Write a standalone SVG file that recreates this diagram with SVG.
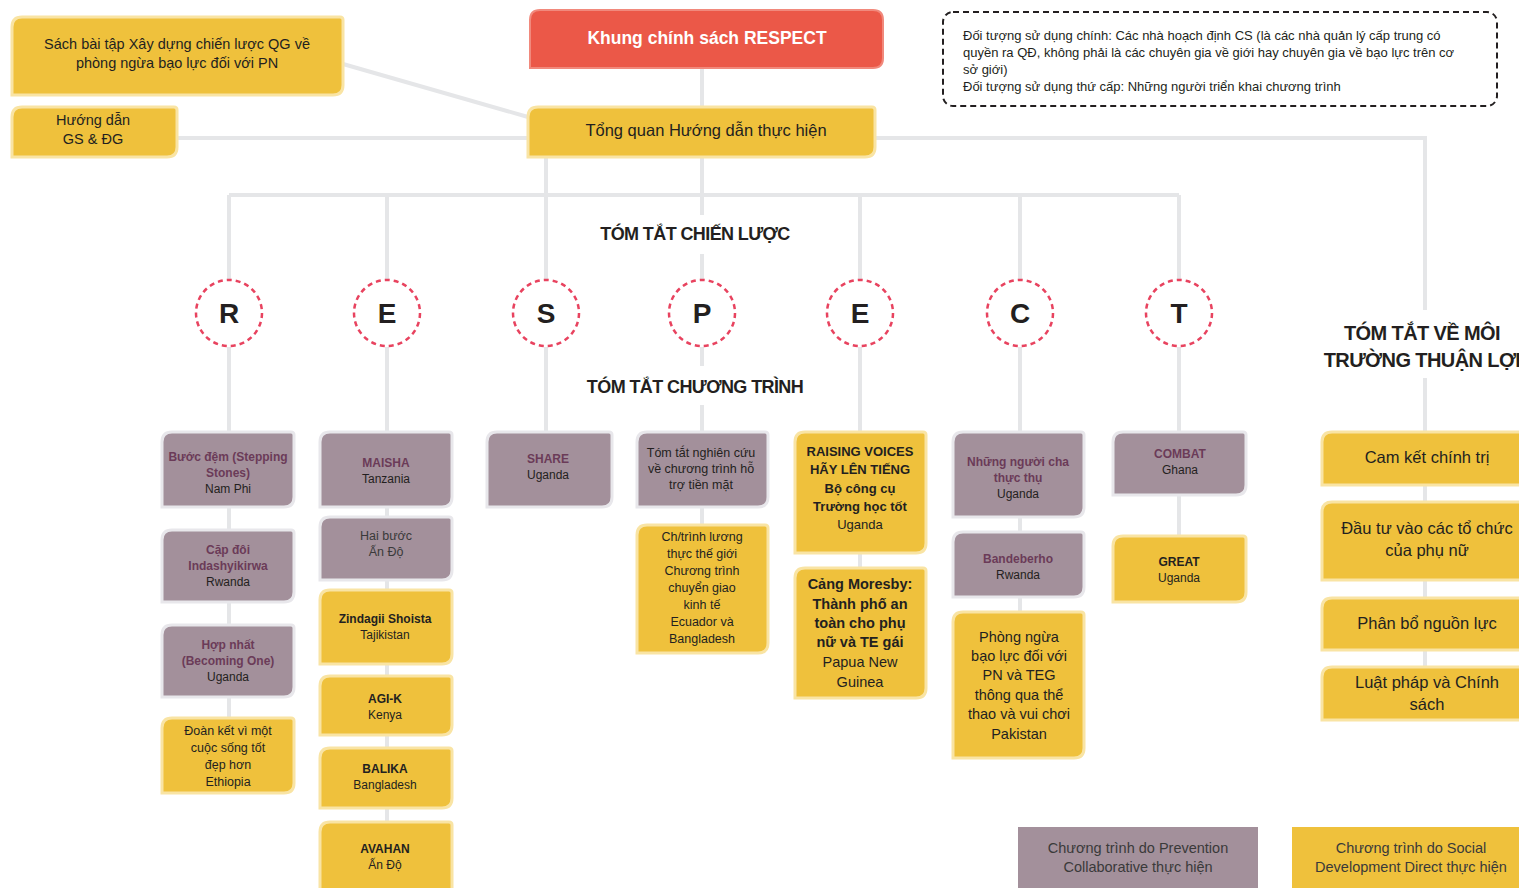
<svg xmlns="http://www.w3.org/2000/svg" width="1519" height="888" viewBox="0 0 1519 888">
<style>
.ln{stroke:#e5e6e8;stroke-width:4;fill:none}
.y{fill:#efc13c;stroke:#f9e4a4;stroke-width:3}
.m{fill:#a3909b;stroke:#e8e7eb;stroke-width:3}
.r{fill:#eb5848;stroke:#f1897c;stroke-width:2}
.c{fill:#fff;stroke:#e8435f;stroke-width:2.5;stroke-dasharray:5 4}
text{font-family:"Liberation Sans",Arial,sans-serif;fill:#231f20;text-anchor:middle}
.s12{font-size:12px}
.s125{font-size:12.5px}
.s13{font-size:12.5px}
.s14{font-size:13px}
.s15{font-size:14.5px}
.s17{font-size:16.5px}
.b{font-weight:bold}
.mb{font-weight:bold;fill:#6b3b58}
.g{fill:#3a3a3a}
.h{font-size:18px;font-weight:bold;letter-spacing:-0.6px}
.L{font-size:28px;font-weight:bold}
.d{font-size:13px;text-anchor:start}
</style>
<rect width="1519" height="888" fill="#fff"/>
<g id="connectors">
<line class="ln" x1="343" y1="64" x2="528" y2="117"/>
<line class="ln" x1="177" y1="138" x2="528" y2="138"/>
<line class="ln" x1="702" y1="68" x2="702" y2="107"/>
<polyline class="ln" points="875,138 1425,138 1425,310"/>
<line class="ln" x1="1425" y1="378" x2="1425" y2="667"/>
<line class="ln" x1="229" y1="195" x2="1179" y2="195"/>
<line class="ln" x1="229" y1="195" x2="229" y2="280"/>
<line class="ln" x1="387" y1="195" x2="387" y2="280"/>
<line class="ln" x1="546" y1="157" x2="546" y2="280"/>
<line class="ln" x1="702" y1="157" x2="702" y2="215"/>
<line class="ln" x1="702" y1="254" x2="702" y2="280"/>
<line class="ln" x1="860" y1="195" x2="860" y2="280"/>
<line class="ln" x1="1020" y1="195" x2="1020" y2="280"/>
<line class="ln" x1="1179" y1="195" x2="1179" y2="280"/>
<line class="ln" x1="229" y1="347" x2="229" y2="718"/>
<line class="ln" x1="387" y1="347" x2="387" y2="822"/>
<line class="ln" x1="546" y1="347" x2="546" y2="432"/>
<line class="ln" x1="702" y1="347" x2="702" y2="366"/>
<line class="ln" x1="702" y1="405" x2="702" y2="525"/>
<line class="ln" x1="860" y1="347" x2="860" y2="568"/>
<line class="ln" x1="1020" y1="347" x2="1020" y2="612"/>
<line class="ln" x1="1179" y1="347" x2="1179" y2="536"/>
</g>
<g id="sach"><path class="y" d="M12 27 Q12 17 22 17 H340 Q343 17 343 20 V85 Q343 95 333 95 H12 Z"/>
<text class="s15" x="177" y="49">Sách bài tập Xây dựng chiến lược QG về</text>
<text class="s15" x="177" y="68">phòng ngừa bạo lực đối với PN</text></g>
<g id="huongdan"><path class="y" d="M12 117 Q12 107 22 107 H174 Q177 107 177 110 V147 Q177 157 167 157 H12 Z"/>
<text class="s15" x="93" y="125">Hướng dẫn</text>
<text class="s15" x="93" y="144">GS &amp; ĐG</text></g>
<g id="khung"><path class="r" d="M530 20 Q530 10 540 10 H873 Q883 10 883 20 V58 Q883 68 873 68 H530 Z"/>
<text x="707" y="44" style="font-size:17.5px;font-weight:bold;fill:#fff">Khung chính sách RESPECT</text></g>
<g id="tongquan"><path class="y" d="M528 117 Q528 107 538 107 H872 Q875 107 875 110 V147 Q875 157 865 157 H528 Z"/>
<text class="s17" x="706" y="136">Tổng quan Hướng dẫn thực hiện</text></g>
<g id="doituong"><rect x="943" y="12" width="554" height="94" rx="10" fill="none" stroke="#231f20" stroke-width="2" stroke-dasharray="6 4"/>
<text class="d" x="963" y="40">Đối tượng sử dụng chính: Các nhà hoạch định CS (là các nhà quản lý cấp trung có</text>
<text class="d" x="963" y="57">quyền ra QĐ, không phải là các chuyên gia về giới hay chuyên gia về bạo lực trên cơ</text>
<text class="d" x="963" y="74">sở giới)</text>
<text class="d" x="963" y="91">Đối tượng sử dụng thứ cấp: Những người triển khai chương trình</text></g>
<g id="labels">
<text class="h" x="695" y="240">TÓM TẮT CHIẾN LƯỢC</text>
<text class="h" x="695" y="393">TÓM TẮT CHƯƠNG TRÌNH</text>
<text x="1422" y="340" style="font-size:20px;font-weight:bold;letter-spacing:-0.6px">TÓM TẮT VỀ MÔI</text>
<text x="1422" y="367" style="font-size:20px;font-weight:bold;letter-spacing:-0.6px">TRƯỜNG THUẬN LỢI</text>
</g>
<g id="circle-R"><circle class="c" cx="229" cy="313" r="33"/><text class="L" x="229" y="323">R</text></g>
<g id="circle-E1"><circle class="c" cx="387" cy="313" r="33"/><text class="L" x="387" y="323">E</text></g>
<g id="circle-S"><circle class="c" cx="546" cy="313" r="33"/><text class="L" x="546" y="323">S</text></g>
<g id="circle-P"><circle class="c" cx="702" cy="313" r="33"/><text class="L" x="702" y="323">P</text></g>
<g id="circle-E2"><circle class="c" cx="860" cy="313" r="33"/><text class="L" x="860" y="323">E</text></g>
<g id="circle-C"><circle class="c" cx="1020" cy="313" r="33"/><text class="L" x="1020" y="323">C</text></g>
<g id="circle-T"><circle class="c" cx="1179" cy="313" r="33"/><text class="L" x="1179" y="323">T</text></g>

<g id="r1"><path class="m" d="M162 442 Q162 432 172 432 H291 Q294 432 294 435 V497 Q294 507 284 507 H162 Z"/>
<text class="s12 mb" x="228" y="461">Bước đệm (Stepping</text><text class="s12 mb" x="228" y="477">Stones)</text><text class="s12" x="228" y="493">Nam Phi</text></g>
<g id="r2"><path class="m" d="M162 540 Q162 530 172 530 H291 Q294 530 294 533 V592 Q294 602 284 602 H162 Z"/>
<text class="s12 mb" x="228" y="554">Cặp đôi</text><text class="s12 mb" x="228" y="570">Indashyikirwa</text><text class="s12" x="228" y="586">Rwanda</text></g>
<g id="r3"><path class="m" d="M162 635 Q162 625 172 625 H291 Q294 625 294 628 V687 Q294 697 284 697 H162 Z"/>
<text class="s12 mb" x="228" y="649">Hợp nhất</text><text class="s12 mb" x="228" y="665">(Becoming One)</text><text class="s12" x="228" y="681">Uganda</text></g>
<g id="r4"><path class="y" d="M162 728 Q162 718 172 718 H291 Q294 718 294 721 V783 Q294 793 284 793 H162 Z"/>
<text class="s13" x="228" y="735">Đoàn kết vì một</text><text class="s13" x="228" y="752">cuộc sống tốt</text><text class="s13" x="228" y="769">đẹp hơn</text><text class="s13" x="228" y="786">Ethiopia</text></g>

<g id="e1"><path class="m" d="M320 442 Q320 432 330 432 H449 Q452 432 452 435 V497 Q452 507 442 507 H320 Z"/>
<text class="s12 mb" x="386" y="467">MAISHA</text><text class="s12" x="386" y="483">Tanzania</text></g>
<g id="e2"><path class="m" d="M320 527 Q320 517 330 517 H449 Q452 517 452 520 V570 Q452 580 442 580 H320 Z"/>
<text class="s13 g" x="386" y="540">Hai bước</text><text class="s13 g" x="386" y="556">Ấn Độ</text></g>
<g id="e3"><path class="y" d="M320 600 Q320 590 330 590 H449 Q452 590 452 593 V654 Q452 664 442 664 H320 Z"/>
<text class="s12 b" x="385" y="623">Zindagii Shoista</text><text class="s12" x="385" y="639">Tajikistan</text></g>
<g id="e4"><path class="y" d="M320 686 Q320 676 330 676 H449 Q452 676 452 679 V725 Q452 735 442 735 H320 Z"/>
<text class="s12 b" x="385" y="703">AGI-K</text><text class="s12" x="385" y="719">Kenya</text></g>
<g id="e5"><path class="y" d="M320 758 Q320 748 330 748 H449 Q452 748 452 751 V798 Q452 808 442 808 H320 Z"/>
<text class="s12 b" x="385" y="773">BALIKA</text><text class="s12" x="385" y="789">Bangladesh</text></g>
<g id="e6"><path class="y" d="M320 832 Q320 822 330 822 H449 Q452 822 452 825 V895 H320 Z"/>
<text class="s12 b" x="385" y="853">AVAHAN</text><text class="s12" x="385" y="869">Ấn Độ</text></g>

<g id="s1"><path class="m" d="M487 442 Q487 432 497 432 H609 Q612 432 612 435 V497 Q612 507 602 507 H487 Z"/>
<text class="s12 mb" x="548" y="463">SHARE</text><text class="s12" x="548" y="479">Uganda</text></g>

<g id="p1"><path class="m" d="M637 442 Q637 432 647 432 H765 Q768 432 768 435 V497 Q768 507 758 507 H637 Z"/>
<text class="s125" x="701" y="457">Tóm tắt nghiên cứu</text><text class="s125" x="701" y="473">về chương trình hỗ</text><text class="s125" x="701" y="489">trợ tiền mặt</text></g>
<g id="p2"><path class="y" d="M637 535 Q637 525 647 525 H765 Q768 525 768 528 V643 Q768 653 758 653 H637 Z"/>
<text class="s13" x="702" y="541">Ch/trình lương</text><text class="s13" x="702" y="558">thực thế giới</text><text class="s13" x="702" y="575">Chương trình</text><text class="s13" x="702" y="592">chuyển giao</text><text class="s13" x="702" y="609">kinh tế</text><text class="s13" x="702" y="626">Ecuador và</text><text class="s13" x="702" y="643">Bangladesh</text></g>

<g id="e2a"><path class="y" d="M795 442 Q795 432 805 432 H923 Q926 432 926 435 V543 Q926 553 916 553 H795 Z"/>
<text class="s14 b" x="860" y="456">RAISING VOICES</text><text class="s14 b" x="860" y="474">HÃY LÊN TIẾNG</text><text class="s14 b" x="860" y="493">Bộ công cụ</text><text class="s14 b" x="860" y="511">Trường học tốt</text><text class="s14" x="860" y="529">Uganda</text></g>
<g id="e2b"><path class="y" d="M795 578 Q795 568 805 568 H923 Q926 568 926 571 V688 Q926 698 916 698 H795 Z"/>
<text class="s15 b" x="860" y="589">Cảng Moresby:</text><text class="s15 b" x="860" y="609">Thành phố an</text><text class="s15 b" x="860" y="628">toàn cho phụ</text><text class="s15 b" x="860" y="647">nữ và TE gái</text><text class="s15" x="860" y="667">Papua New</text><text class="s15" x="860" y="687">Guinea</text></g>

<g id="c1"><path class="m" d="M953 442 Q953 432 963 432 H1081 Q1084 432 1084 435 V507 Q1084 517 1074 517 H953 Z"/>
<text class="s12 mb" x="1018" y="466">Những người cha</text><text class="s12 mb" x="1018" y="482">thực thụ</text><text class="s12" x="1018" y="498">Uganda</text></g>
<g id="c2"><path class="m" d="M953 542 Q953 532 963 532 H1081 Q1084 532 1084 535 V587 Q1084 597 1074 597 H953 Z"/>
<text class="s12 mb" x="1018" y="563">Bandeberho</text><text class="s12" x="1018" y="579">Rwanda</text></g>
<g id="c3"><path class="y" d="M953 622 Q953 612 963 612 H1081 Q1084 612 1084 615 V748 Q1084 758 1074 758 H953 Z"/>
<text class="s15" x="1019" y="642">Phòng ngừa</text><text class="s15" x="1019" y="661">bạo lực đối với</text><text class="s15" x="1019" y="680">PN và TEG</text><text class="s15" x="1019" y="700">thông qua thể</text><text class="s15" x="1019" y="719">thao và vui chơi</text><text class="s15" x="1019" y="739">Pakistan</text></g>

<g id="t1"><path class="m" d="M1113 442 Q1113 432 1123 432 H1243 Q1246 432 1246 435 V485 Q1246 495 1236 495 H1113 Z"/>
<text class="s12 mb" x="1180" y="458">COMBAT</text><text class="s12" x="1180" y="474">Ghana</text></g>
<g id="t2"><path class="y" d="M1113 546 Q1113 536 1123 536 H1243 Q1246 536 1246 539 V592 Q1246 602 1236 602 H1113 Z"/>
<text class="s12 b" x="1179" y="566">GREAT</text><text class="s12" x="1179" y="582">Uganda</text></g>

<g id="env1"><path class="y" d="M1322 442 Q1322 432 1332 432 H1530 V485 H1322 Z"/>
<text class="s17" x="1427" y="463">Cam kết chính trị</text></g>
<g id="env2"><path class="y" d="M1322 512 Q1322 502 1332 502 H1530 V580 H1322 Z"/>
<text class="s17" x="1427" y="534">Đầu tư vào các tổ chức</text><text class="s17" x="1427" y="556">của phụ nữ</text></g>
<g id="env3"><path class="y" d="M1322 608 Q1322 598 1332 598 H1530 V650 H1322 Z"/>
<text class="s17" x="1427" y="629">Phân bổ nguồn lực</text></g>
<g id="env4"><path class="y" d="M1322 677 Q1322 667 1332 667 H1530 V720 H1322 Z"/>
<text class="s17" x="1427" y="688">Luật pháp và Chính</text><text class="s17" x="1427" y="710">sách</text></g>

<g id="legend-pc"><rect x="1018" y="827" width="240" height="65" fill="#a3909b"/>
<text class="s15 g" x="1138" y="853">Chương trình do Prevention</text><text class="s15 g" x="1138" y="872">Collaborative thực hiện</text></g>
<g id="legend-sdd"><rect x="1292" y="827" width="240" height="65" fill="#efc13c"/>
<text class="s15 g" x="1411" y="853">Chương trình do Social</text><text class="s15 g" x="1411" y="872">Development Direct thực hiện</text></g>
</svg>
